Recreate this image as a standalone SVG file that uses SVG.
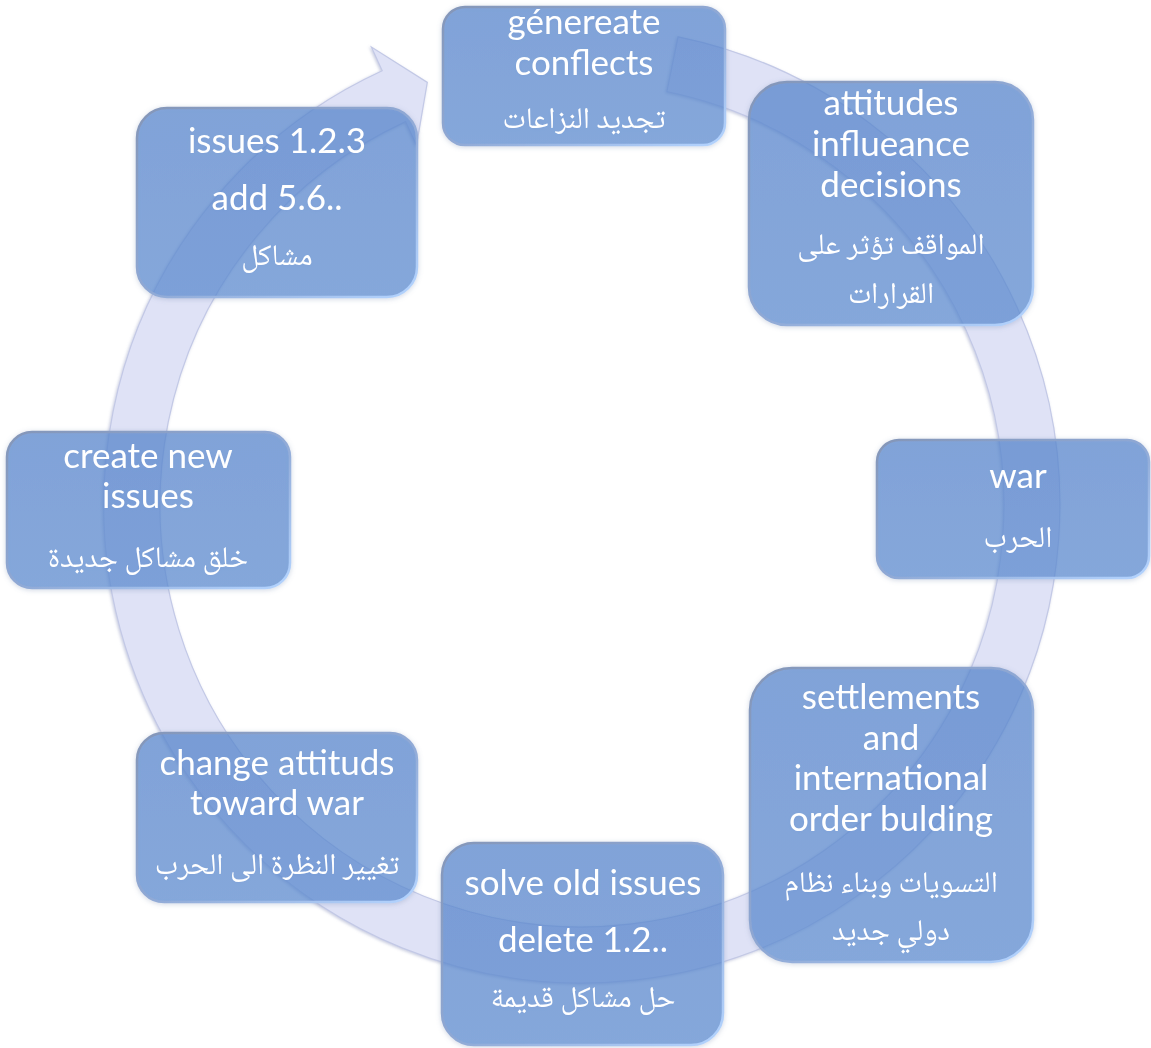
<svg xmlns="http://www.w3.org/2000/svg" width="1151" height="1048" viewBox="0 0 1151 1048">
<defs>
<linearGradient id="boxFill" x1="0" y1="0" x2="0" y2="1">
<stop offset="0" stop-color="#5686cf"/>
<stop offset="1" stop-color="#5c8cd3"/>
</linearGradient>
<linearGradient id="boxEdge" x1="0" y1="0" x2="1" y2="1">
<stop offset="0" stop-color="#8496b8"/>
<stop offset="0.5" stop-color="#8fa8d4"/>
<stop offset="1" stop-color="#b4d4ff"/>
</linearGradient>
<filter id="soft" x="-10%" y="-10%" width="120%" height="120%">
<feGaussianBlur in="SourceAlpha" stdDeviation="2.5"/>
<feOffset dx="0" dy="1" result="b"/>
<feFlood flood-color="#6a7fa8" flood-opacity="0.35"/>
<feComposite in2="b" operator="in" result="s"/>
<feMerge><feMergeNode in="s"/><feMergeNode in="SourceGraphic"/></feMerge>
</filter>
<filter id="ringShade" x="-5%" y="-5%" width="110%" height="110%">
<feGaussianBlur in="SourceAlpha" stdDeviation="1.5"/>
<feOffset dx="-1" dy="1" result="b"/>
<feFlood flood-color="#8e96bf" flood-opacity="0.5"/>
<feComposite in2="b" operator="in" result="s"/>
<feMerge><feMergeNode in="s"/><feMergeNode in="SourceGraphic"/></feMerge>
</filter>
</defs>
<style>
.box{fill:url(#boxFill);fill-opacity:0.68;stroke:url(#boxEdge);stroke-width:2.5}
.en{font-family:Lato,"Open Sans","Liberation Sans",sans-serif;font-size:35px;fill:#ffffff;text-anchor:middle}
.ar{font-family:"Noto Naskh Arabic","Noto Sans Arabic","DejaVu Sans",sans-serif;font-size:30px;fill:#ffffff;text-anchor:middle;direction:rtl}
.ring{fill:#dfe2f6;stroke:#c3c9e6;stroke-width:1.2}
</style>
<rect width="1151" height="1048" fill="#ffffff"/>
<g id="connectors" filter="url(#ringShade)">
<path class="ring" d="M678.1,36.8 A478,478 0 1,1 382.2,70.7 L371.4,47.1 L427.3,82.4 L416.5,145.2 L405.6,121.6 A422,422 0 1,0 666.9,91.6 Z"/>
</g>
<g id="node-generate" filter="url(#soft)">
<rect class="box" x="443" y="7" width="282" height="138" rx="22"/>
<text class="en" x="584" y="34">génereate</text>
<text class="en" x="584" y="75">conflects</text>
<text class="ar" x="584" y="128">تجديد النزاعات</text>
</g>
<g id="node-attitudes" filter="url(#soft)">
<rect class="box" x="749" y="82" width="284" height="243" rx="38"/>
<text class="en" x="891" y="115">attitudes</text>
<text class="en" x="891" y="156">influeance</text>
<text class="en" x="891" y="197">decisions</text>
<text class="ar" x="891" y="254">المواقف تؤثر على</text>
<text class="ar" x="891" y="303">القرارات</text>
</g>
<g id="node-war" filter="url(#soft)">
<rect class="box" x="877" y="440" width="272" height="138" rx="22"/>
<text class="en" x="1018" y="488">war</text>
<text class="ar" x="1018" y="547">الحرب</text>
</g>
<g id="node-settlements" filter="url(#soft)">
<rect class="box" x="750" y="668" width="283" height="294" rx="42"/>
<text class="en" x="891" y="709">settlements</text>
<text class="en" x="891" y="750">and</text>
<text class="en" x="891" y="790">international</text>
<text class="en" x="891" y="831">order bulding</text>
<text class="ar" x="891" y="892">التسويات وبناء نظام</text>
<text class="ar" x="891" y="940">دولي جديد</text>
</g>
<g id="node-solve" filter="url(#soft)">
<rect class="box" x="442" y="843" width="281" height="202" rx="32"/>
<text class="en" x="583" y="895">solve old issues</text>
<text class="en" x="583" y="952">delete 1.2..</text>
<text class="ar" x="583" y="1007">حل مشاكل قديمة</text>
</g>
<g id="node-change" filter="url(#soft)">
<rect class="box" x="137" y="733" width="280" height="169" rx="27"/>
<text class="en" x="277" y="775">change attituds</text>
<text class="en" x="277" y="815">toward war</text>
<text class="ar" x="277" y="874">تغيير النظرة الى الحرب</text>
</g>
<g id="node-create" filter="url(#soft)">
<rect class="box" x="7" y="432" width="283" height="156" rx="25"/>
<text class="en" x="148" y="468">create new</text>
<text class="en" x="148" y="508">issues</text>
<text class="ar" x="148" y="567">خلق مشاكل جديدة</text>
</g>
<g id="node-issues" filter="url(#soft)">
<rect class="box" x="137" y="108" width="280" height="189" rx="30"/>
<text class="en" x="277" y="153">issues 1.2.3</text>
<text class="en" x="277" y="210">add 5.6..</text>
<text class="ar" x="277" y="265">مشاكل</text>
</g>
</svg>
